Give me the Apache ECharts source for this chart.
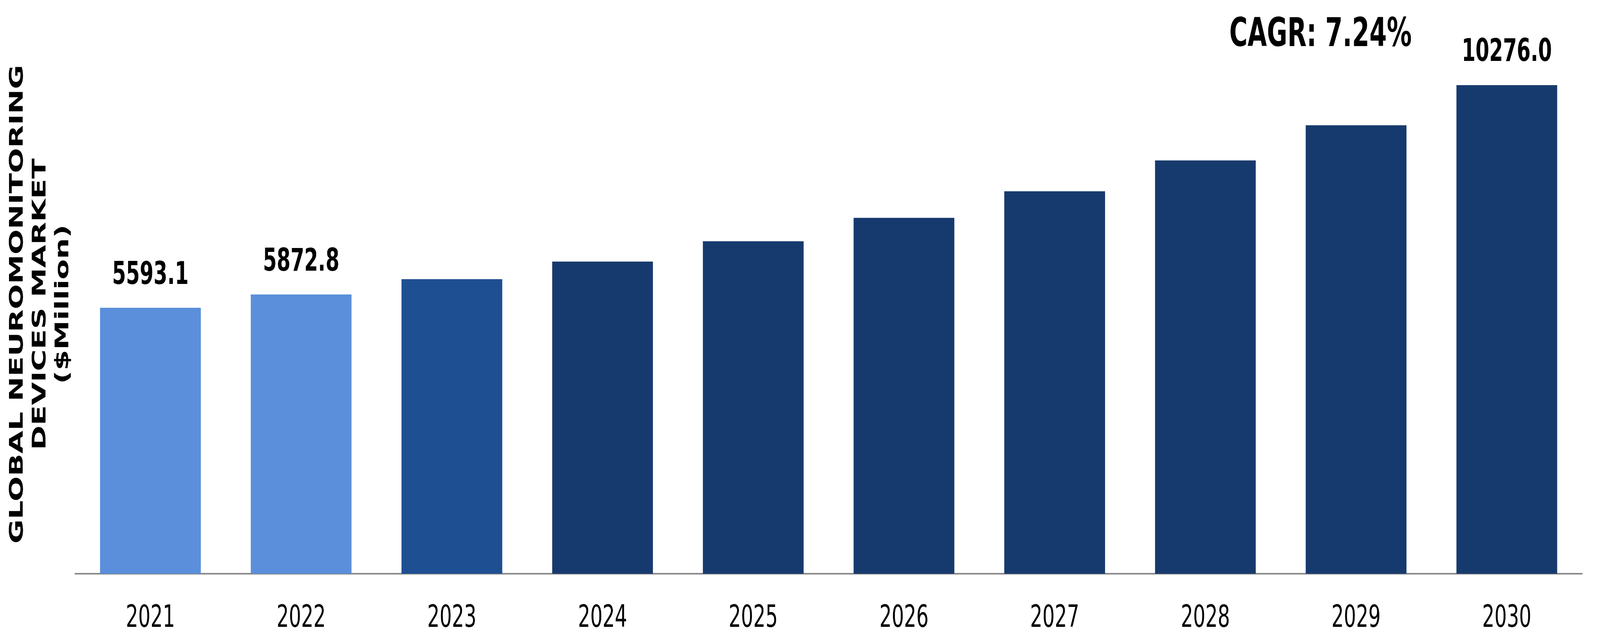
<!DOCTYPE html>
<html>
<head>
<meta charset="utf-8">
<script src="https://cdn.jsdelivr.net/npm/echarts@6/dist/echarts.min.js"></script>
<style>
html,body{margin:0;padding:0;background:#fff;overflow:hidden;}
#chart{width:6543px;height:1631px;transform-origin:0 0;}
</style>
</head>
<body>
<div id="chart"></div>
<script>
var years = ['2021','2022','2023','2024','2025','2026','2027','2028','2029','2030'];
var marketValues = [5593.1, 5872.8, 6195, 6564, 6991, 7484, 8043, 8692, 9431, 10276.0];
var labeledYears = ['2021','2022','2030'];
var barColors = ['#5B8FDB','#5B8FDB','#1F4F93','#173A6E','#173A6E','#173A6E','#173A6E','#173A6E','#173A6E','#173A6E'];
var yTitleLines = ['GLOBAL NEUROMONITORING','DEVICES MARKET','($Million)'];
var cagrText = 'CAGR: 7.24%';

var FONT = 'DejaVu Sans';
var W = 6543, H = 1631;
var el = document.getElementById('chart');
// fit the full-size chart into whatever viewport the browser provides
var sx = (window.innerWidth || W) / W, sy = (window.innerHeight || H) / H;
if (Math.abs(sx - 1) > 0.001 || Math.abs(sy - 1) > 0.001) {
  el.style.transform = 'scale(' + sx + ',' + sy + ')';
}
var chart = echarts.init(el, null, {width: W, height: H});

var seriesData = marketValues.map(function(v, i){
  return {
    value: v,
    itemStyle: {color: barColors[i]},
    label: {show: labeledYears.indexOf(years[i]) >= 0}
  };
});

chart.setOption({
  animation: false,
  backgroundColor: '#ffffff',
  grid: {left: 307, right: 73, top: 8, bottom: 162},
  xAxis: {
    type: 'category',
    data: years,
    axisLine: {show: true, lineStyle: {color: '#898989', width: 4}},
    axisTick: {show: false},
    axisLabel: {fontFamily: FONT, fontSize: 79, color: '#000', margin: 76}
  },
  yAxis: {
    type: 'value',
    min: 0,
    max: 12000,
    show: false,
    splitLine: {show: false}
  },
  series: [{
    type: 'bar',
    data: seriesData,
    barWidth: 412,
    label: {
      position: 'top',
      distance: 42,
      fontFamily: FONT,
      fontWeight: 'bold',
      fontSize: 81,
      color: '#000',
      formatter: function(p){ return p.value.toFixed(1); }
    }
  }],
  graphic: [
    {
      type: 'text',
      x: 166,
      y: 779,
      rotation: Math.PI / 2,
      style: {
        text: yTitleLines.join('\n'),
        fontFamily: FONT,
        fontWeight: 'bold',
        fontSize: 76,
        lineHeight: 93,
        fill: '#000',
        align: 'center',
        verticalAlign: 'middle'
      }
    },
    {
      type: 'text',
      x: 5400,
      y: 91,
      style: {
        text: cagrText,
        fontFamily: FONT,
        fontWeight: 'bold',
        fontSize: 102,
        fill: '#000',
        align: 'center',
        verticalAlign: 'middle'
      }
    }
  ]
});
</script>
</body>
</html>
